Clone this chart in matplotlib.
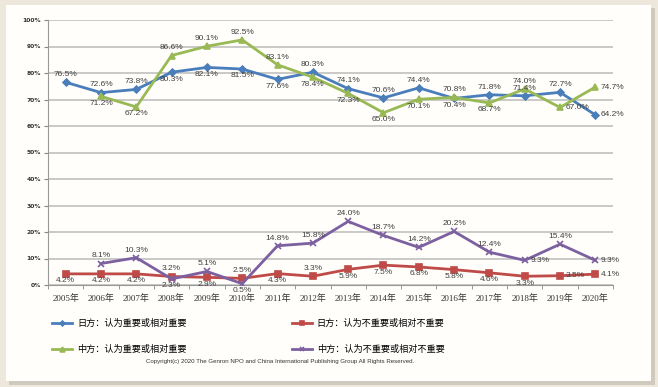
import matplotlib
matplotlib.use('Agg')
import matplotlib.pyplot as plt
from matplotlib.patches import Rectangle

years = ['2005年', '2006年', '2007年', '2008年', '2009年', '2010年', '2011年', '2012年',
         '2013年', '2014年', '2015年', '2016年', '2017年', '2018年', '2019年', '2020年']

jp_imp = [76.5, 72.6, 73.8, 80.3, 82.1, 81.5, 77.6, 80.3, 74.1, 70.6, 74.4, 70.4, 71.8, 71.4, 72.7, 64.2]
cn_imp = [None, 71.2, 67.2, 86.6, 90.1, 92.5, 83.1, 78.4, 72.3, 65.0, 70.1, 70.8, 68.7, 74.0, 67.0, 74.7]
jp_not = [4.2, 4.2, 4.2, 3.2, 2.9, 2.5, 4.3, 3.3, 5.9, 7.5, 6.8, 5.8, 4.6, 3.3, 3.5, 4.1]
cn_not = [None, 8.1, 10.3, 2.3, 5.1, 0.5, 14.8, 15.8, 24.0, 18.7, 14.2, 20.2, 12.4, 9.3, 15.4, 9.3]

names = ['日方：认为重要或相对重要', '中方：认为重要或相对重要',
         '日方：认为不重要或相对不重要', '中方：认为不重要或相对不重要']

# label placement: a = above, b = below, r = right
pos_jp_imp = list('aaabbbbaaaabaaar')
pos_cn_imp = list('-bbaaaabbbbabarr')
pos_jp_not = list('bbbabababbbbbbrr')
pos_cn_not = list('-aababaaaaaaarar')

cjk = ['Liberation Serif', 'Noto Sans CJK SC']

fig = plt.figure(figsize=(6.58, 3.87), dpi=100)
fig.patch.set_facecolor('#eee8dc')
W, H = 658, 387
fig.patches.append(Rectangle((9 / W, 2 / H), 646 / W, 377 / H, transform=fig.transFigure,
                             facecolor='#cfc9be', edgecolor='none', zorder=-2))
fig.patches.append(Rectangle((6 / W, 6 / H), 645 / W, 376 / H, transform=fig.transFigure,
                             facecolor='#fffefb', edgecolor='none', zorder=-1))

ax = fig.add_axes([48 / W, 1 - 285 / H, 565 / W, 265 / H])
ax.set_facecolor('none')

x = list(range(len(years)))

def series(vals, pos, color, marker, ms, label):
    xs = [i for i, v in zip(x, vals) if v is not None]
    ys = [v for v in vals if v is not None]
    ax.plot(xs, ys, color=color, lw=2, marker=marker, ms=ms, mec=color, mfc=color,
            mew=1.2, label=label, zorder=3)
    for i, v in zip(x, vals):
        if v is None:
            continue
        p = pos[i]
        if p == 'a':
            off, ha, va = (0, 3), 'center', 'bottom'
        elif p == 'b':
            off, ha, va = (0, -2.5), 'center', 'top'
        else:
            off, ha, va = (4, 0), 'left', 'center'
        ax.annotate(f'{v:.1f}%', (i, v), xytext=off, textcoords='offset points',
                    ha=ha, va=va, fontsize=6, family='Liberation Sans',
                    color='#404040', zorder=4)

series(jp_imp, pos_jp_imp, '#4a7ebb', 'D', 3.5, names[0])
series(cn_imp, pos_cn_imp, '#98b954', '^', 5, names[1])
series(jp_not, pos_jp_not, '#be4b48', 's', 5, names[2])
series(cn_not, pos_cn_not, '#7d60a0', 'x', 5, names[3])

ax.set_xlim(-0.5, len(years) - 0.5)
ax.set_ylim(0, 100)
ax.set_yticks(range(0, 101, 10))
ax.set_yticklabels([f'{t}%' for t in range(0, 101, 10)], fontsize=4.3,
                   fontweight='bold', color='#333333')
ax.set_xticks(x)
ax.set_xticklabels(years, fontsize=6.5, family=cjk, color='#333333')
ax.set_xticks([i - 0.5 for i in range(len(years) + 1)], minor=True)
ax.tick_params(axis='x', which='major', length=0, pad=6.5)
ax.tick_params(axis='x', which='minor', length=3, color='#888888', direction='out')
ax.tick_params(axis='y', length=3, color='#888888', pad=2)
ax.grid(axis='y', color='#bbbbbb', lw=1.1)
ax.set_axisbelow(True)
for s in ['top', 'right']:
    ax.spines[s].set_visible(False)
ax.spines['left'].set_color('#999999')
ax.spines['bottom'].set_color('#999999')

h, l = ax.get_legend_handles_labels()
fig.legend(h, l, ncol=2, loc='upper left', bbox_to_anchor=(44 / W, 1 - 311 / H),
           frameon=False, prop={'family': cjk, 'size': 6.6}, handlelength=2.2,
           handletextpad=0.5, columnspacing=11.5, labelspacing=1.85, markerscale=0.7)

fig.text(280 / W, 1 - 362 / H,
         'Copyright(c) 2020 The Genron NPO and China International Publishing Group All Rights Reserved.',
         ha='center', va='center', fontsize=4.4, family='Liberation Sans', color='#333333')

fig.savefig('out.png', dpi=100, facecolor=fig.get_facecolor())
